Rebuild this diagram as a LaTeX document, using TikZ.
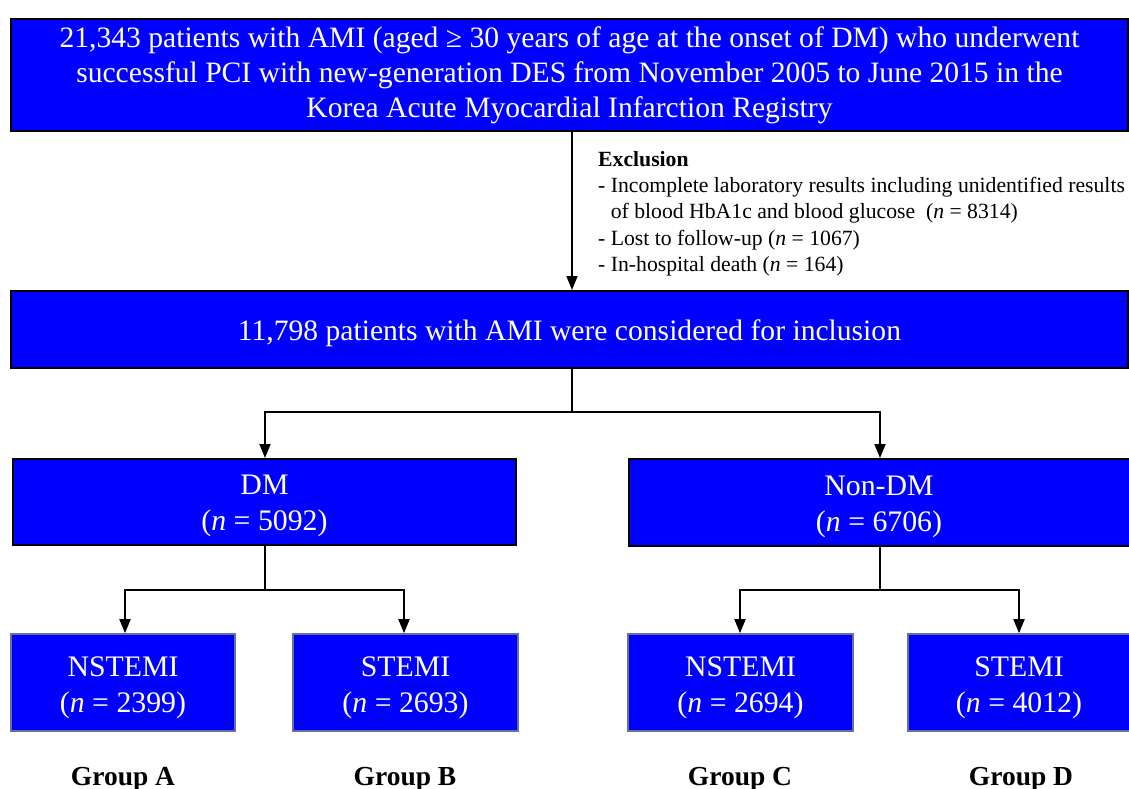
\documentclass[tikz,border=0pt]{standalone}
\usepackage{fontspec}
\setmainfont{Liberation Serif}
\usetikzlibrary{arrows.meta,positioning}
\definecolor{boxblue}{RGB}{0,0,255}
\definecolor{slateborder}{RGB}{105,112,150}
\tikzset{
  bigbox/.style={draw=black, line width=2pt, fill=boxblue, text=white, align=center, inner sep=0pt,
    font=\fontsize{29.6}{35}\selectfont},
  midbox/.style={draw=black, line width=2pt, fill=boxblue, inner sep=0pt},
  smallbox/.style={draw=slateborder, line width=1.6pt, fill=boxblue, inner sep=0pt},
  boxtext/.style={text=white, align=center, inner sep=0pt, font=\fontsize{29.8}{36}\selectfont},
  grouplabel/.style={font=\bfseries\fontsize{27.5}{30}\selectfont},
  arr/.style={line width=1.8pt, -{Triangle[width=11pt,length=14pt]}},
  conn/.style={line width=1.8pt}
}
\begin{document}
\begin{tikzpicture}[x=1pt,y=-1pt]
\useasboundingbox (0,0) rectangle (1129,789);
% top box
\node[bigbox, minimum width=1117pt, minimum height=112pt] (top) at (569.5,75.5)
  {21,343 patients with AMI (aged ≥ 30 years of age at the onset of DM) who underwent\\
   successful PCI with new-generation DES from November 2005 to June 2015 in the\\
   Korea Acute Myocardial Infarction Registry};
% inclusion box
\node[midbox, minimum width=1117pt, minimum height=77pt] (incl) at (569.5,329.5) {};
\node[boxtext, font=\fontsize{29.6}{35}\selectfont] (tincl) at ([yshift=-4pt]incl.center)
  {11,798 patients with AMI were considered for inclusion};
% exclusion text
\node[anchor=north west, align=left, inner sep=0pt,
  font=\fontsize{21.7}{26.25}\selectfont] (excl) at (598,151)
  {\textbf{Exclusion}\\
   - Incomplete laboratory results including unidentified results\\
   \phantom{- }of blood HbA1c and blood glucose \ (\textit{n} = 8314)\\
   - Lost to follow-up (\textit{n} = 1067)\\
   - In-hospital death (\textit{n} = 164)};
% DM / Non-DM
\node[midbox, minimum width=503pt, minimum height=86pt] (dm) at (264.5,502) {};
\node[boxtext] (tdm) at ([yshift=-4pt]dm.center) {DM\\(\textit{n} = 5092)};
\node[midbox, minimum width=501pt, minimum height=87pt] (ndm) at (879,502.5) {};
\node[boxtext] (tndm) at ([yshift=-4pt]ndm.center) {Non-DM\\(\textit{n} = 6706)};
% bottom boxes
\node[smallbox, minimum width=224pt, minimum height=97pt] (a) at (123,682.5) {};
\node[boxtext] (ta) at ([yshift=-5pt]a.center) {NSTEMI\\(\textit{n} = 2399)};
\node[smallbox, minimum width=225pt, minimum height=97pt] (b) at (405.5,682.5) {};
\node[boxtext] (tb) at ([yshift=-5pt]b.center) {STEMI\\(\textit{n} = 2693)};
\node[smallbox, minimum width=225pt, minimum height=97pt] (c) at (740.5,682.5) {};
\node[boxtext] (tc) at ([yshift=-5pt]c.center) {NSTEMI\\(\textit{n} = 2694)};
\node[smallbox, minimum width=222pt, minimum height=97pt] (d) at (1019,682.5) {};
\node[boxtext] (td) at ([yshift=-5pt]d.center) {STEMI\\(\textit{n} = 4012)};
% group labels
\node[grouplabel] (ga) at (123,779) {Group A};
\node[grouplabel] (gb) at (405,779) {Group B};
\node[grouplabel] (gc) at (740,779) {Group C};
\node[grouplabel] (gd) at (1021,779) {Group D};
% helper coordinates
\coordinate (xm) at (572,0);
\coordinate (j1) at (0,412);
\coordinate (xdm) at (265,0);
\coordinate (xndm) at (880,0);
\coordinate (j2) at (0,590);
\coordinate (xa) at (125,0);
\coordinate (xb) at (404,0);
\coordinate (xc) at (740,0);
\coordinate (xd) at (1019,0);
% connectors
\draw[arr] (xm |- top.south) -- (xm |- incl.north);
\draw[conn] (xm |- incl.south) -- (xm |- j1);
\draw[arr] (xm |- j1) -| (xdm |- dm.north);
\draw[arr] (xm |- j1) -| (xndm |- ndm.north);
\draw[conn] (xdm |- dm.south) -- (xdm |- j2);
\draw[arr] (xdm |- j2) -| (xa |- a.north);
\draw[arr] (xdm |- j2) -| (xb |- b.north);
\draw[conn] (xndm |- ndm.south) -- (xndm |- j2);
\draw[arr] (xndm |- j2) -| (xc |- c.north);
\draw[arr] (xndm |- j2) -| (xd |- d.north);
\end{tikzpicture}
\end{document}
